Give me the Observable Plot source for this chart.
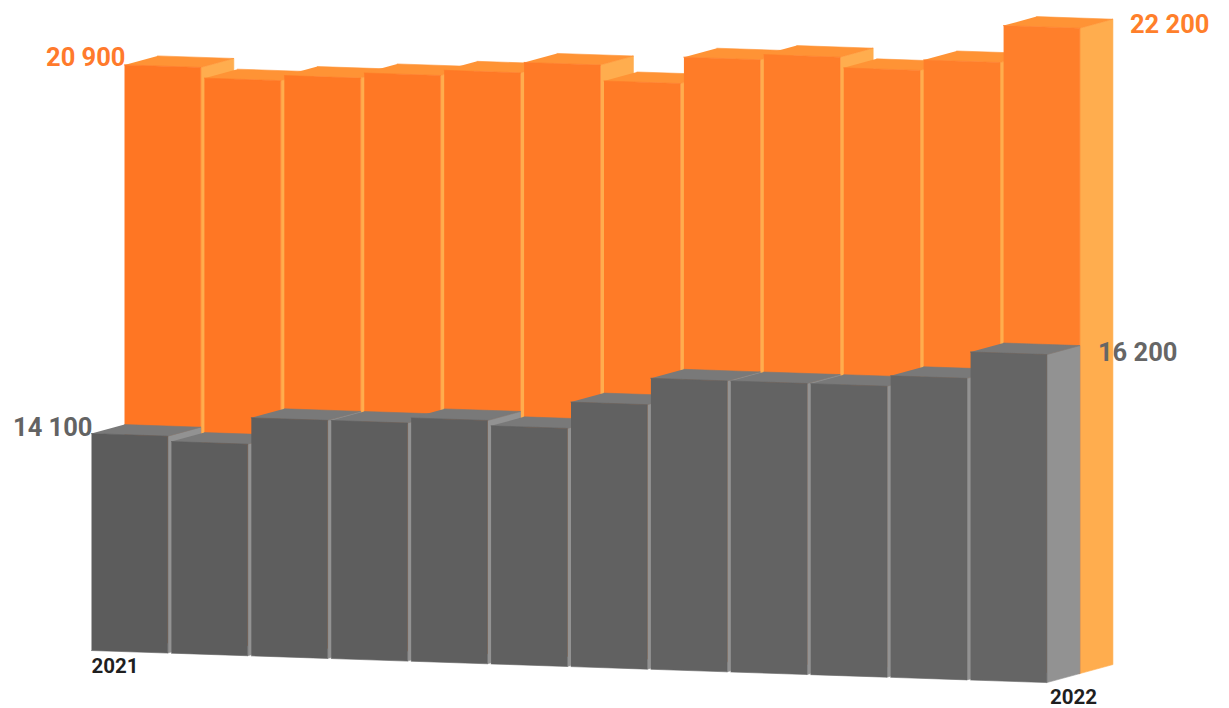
<!DOCTYPE html>
<html>
<head>
<meta charset="utf-8">
<style>
  html, body { margin: 0; padding: 0; background: #fff; }
  svg { display: block; }
</style>
<script src="https://cdn.jsdelivr.net/npm/d3@7"></script>
<script src="https://cdn.jsdelivr.net/npm/@observablehq/plot@0.6"></script>
</head>
<body>
<div id="chart"></div>
<script>
// Monthly values, one bar per month from the first year label to the second.
const upperValues = [20900, 20700, 20800, 20900, 21000, 21200, 20900, 21400, 21500, 21300, 21500, 22200];
const lowerValues = [14100, 14000, 14500, 14500, 14600, 14500, 15000, 15500, 15500, 15500, 15700, 16200];
const yearLabels = ["2021", "2022"];

// Oblique projection: the base falls slowly to the right, depth shifts up and right.
const baseValue = 10000;
const fallPerMonth = 50.7;   // value units lost per month along the base
const depthX = 0.413;        // months per row of depth
const depthY = 170;          // value units per row of depth
const barSpan = 0.955;       // share of a month taken by a bar

const px = (m, d) => m + d * depthX;
const py = (v, m, d) => v - fallPerMonth * m + depthY * d;

const upperPalette = {
  front: d3.interpolateRgb("#ff7623", "#ff7f2b"),
  top: "#ff9335",
  side: "#ffad4e"
};
const lowerPalette = {
  front: d3.interpolateRgb("#5c5c5c", "#656565"),
  top: "#797979",
  side: "#929292"
};

// Each bar contributes a side, a top and a front, painted left to right.
function barFaces(values, row, palette, prefix) {
  const faces = [];
  values.forEach((v, i) => {
    const a = i, b = i + barSpan;
    const face = (name, color, corners) =>
      corners.forEach(([m, val, d]) =>
        faces.push({id: `${prefix}-${i}-${name}`, color, x: px(m, d), y: py(val, m, d)}));
    face("side", palette.side, [
      [b, baseValue, row], [b, baseValue, row + 1], [b, v, row + 1], [b, v, row]
    ]);
    face("top", palette.top, [
      [a, v, row], [b, v, row], [b, v, row + 1], [a, v, row + 1]
    ]);
    face("front", palette.front(i / (values.length - 1)), [
      [a, baseValue, row], [b, baseValue, row], [b, v, row], [a, v, row]
    ]);
  });
  return faces;
}

const formatValue = v => d3.format(",")(v).replace(",", " ");
const last = upperValues.length - 1;

const valueLabels = [
  {x: px(0, 1), y: py(upperValues[0], 0, 1), text: formatValue(upperValues[0]), fill: "#ff7a2c", anchor: "end", dx: 1, dy: -7},
  {x: px(0, 0), y: py(lowerValues[0], 0, 0), text: formatValue(lowerValues[0]), fill: "#636363", anchor: "end", dx: 1, dy: -6},
  {x: px(last + barSpan, 2), y: py(upperValues[last], last + barSpan, 2), text: formatValue(upperValues[last]), fill: "#ff7f2b", anchor: "start", dx: 17, dy: 6},
  {x: px(last + barSpan, 1), y: py(lowerValues[last], last + barSpan, 1), text: formatValue(lowerValues[last]), fill: "#666666", anchor: "start", dx: 18, dy: 7}
];
const yearMarks = [
  {x: px(0, 0), y: py(baseValue, 0, 0), text: yearLabels[0], anchor: "start", dx: 0, dy: 16},
  {x: px(last + barSpan, 0), y: py(baseValue, last + barSpan, 0), text: yearLabels[1], anchor: "start", dx: 3, dy: 15}
];

// dx and dy are constants in Plot, so each label gets its own mark.
const labelMark = (r, size, weight, fill) =>
  Plot.text([r], {
    x: "x", y: "y", text: "text", fill, textAnchor: r.anchor, dx: r.dx, dy: r.dy,
    fontFamily: "Roboto", fontSize: size, fontWeight: weight, lineAnchor: "middle"
  });

const faceOptions = {x: "x", y: "y", z: "id", fill: "color", stroke: "color", strokeWidth: 0.6};

const chart = Plot.plot({
  width: 1229,
  height: 708,
  margin: 0,
  style: {background: "#fff"},
  x: {domain: [0, 12], range: [91, 1050], axis: null},
  y: {domain: [10000, 22287], range: [650, 0], axis: null},
  color: {type: "identity"},
  marks: [
    Plot.line(barFaces(upperValues, 1, upperPalette, "upper"), faceOptions),
    Plot.line(barFaces(lowerValues, 0, lowerPalette, "lower"), faceOptions),
    ...valueLabels.map(r => labelMark(r, 25.5, 700, r.fill)),
    ...yearMarks.map(r => labelMark(r, 20.5, 700, "#1f1f1f"))
  ]
});

document.getElementById("chart").append(chart);
</script>
</body>
</html>
